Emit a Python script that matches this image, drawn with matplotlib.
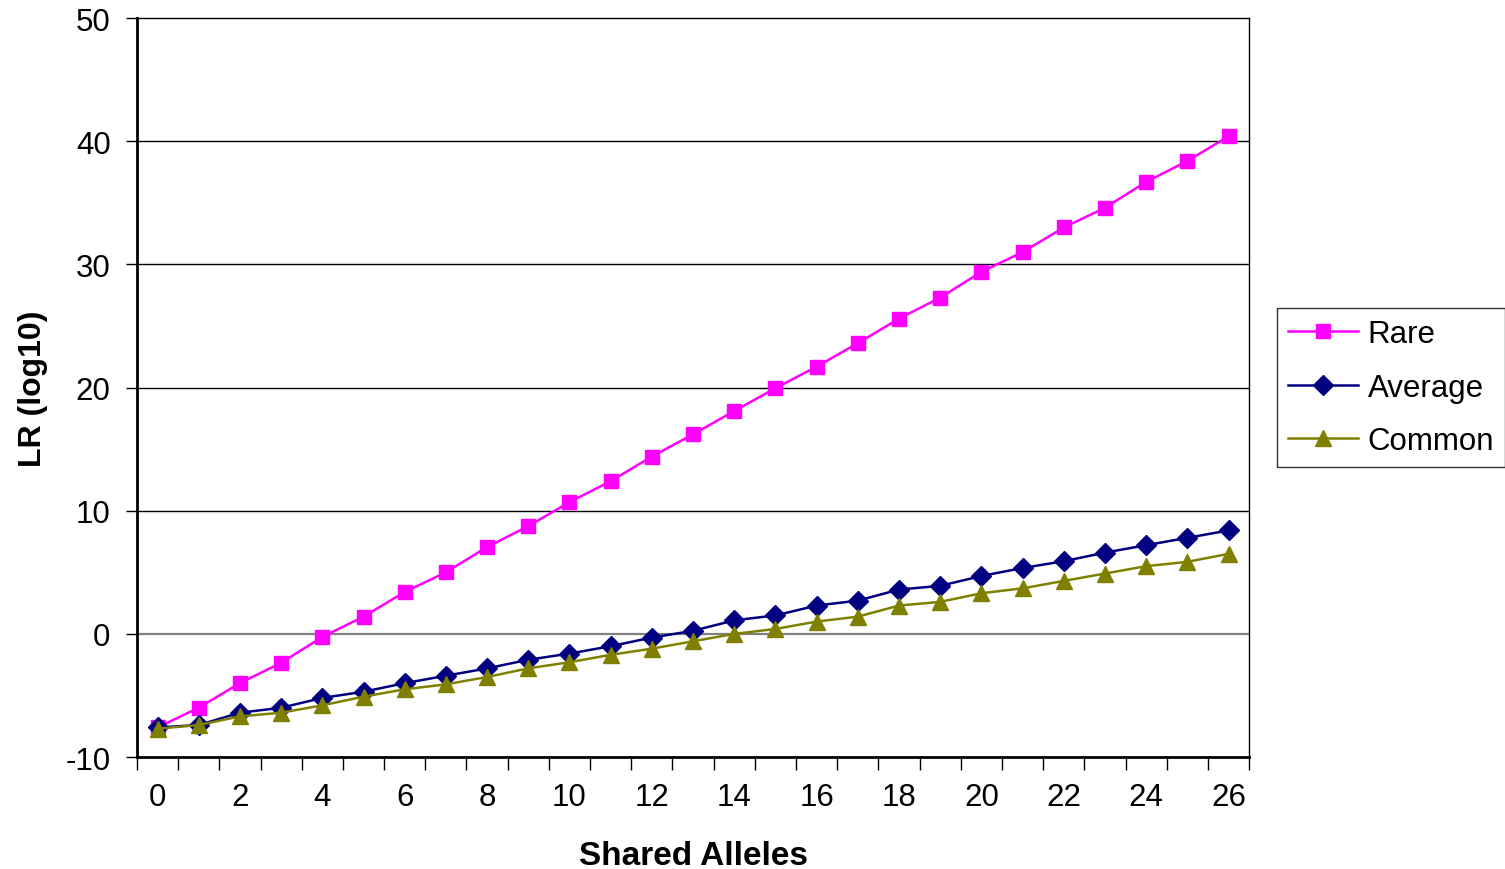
import numpy as np
import matplotlib.pyplot as plt
from matplotlib.ticker import MultipleLocator, FixedLocator

plt.rcParams['font.family'] = ['Liberation Sans', 'DejaVu Sans']
plt.rcParams['axes.unicode_minus'] = False

shared = np.arange(0, 27)

# LR (log10)
rare = [-7.6, -6.0, -4.0, -2.35, -0.25, 1.4, 3.4, 5.0, 7.05, 8.75, 10.7, 12.4, 14.4, 16.2,
        18.1, 19.95, 21.7, 23.6, 25.6, 27.3, 29.4, 31.0, 33.0, 34.6, 36.7, 38.4, 40.4]
average = [-7.6, -7.4, -6.4, -6.0, -5.2, -4.7, -4.0, -3.4, -2.8, -2.1, -1.6, -1.0, -0.3, 0.25,
           1.1, 1.5, 2.3, 2.7, 3.6, 3.9, 4.7, 5.35, 5.9, 6.6, 7.2, 7.8, 8.4]
common = [-7.7, -7.4, -6.7, -6.4, -5.8, -5.1, -4.5, -4.1, -3.5, -2.8, -2.3, -1.7, -1.2, -0.6,
          0.0, 0.4, 1.0, 1.4, 2.3, 2.6, 3.3, 3.7, 4.3, 4.9, 5.5, 5.85, 6.5]

fig = plt.figure(figsize=(15.05, 8.7), dpi=100)
ax = fig.add_axes([0.091, 0.1287, 0.739, 0.8493])

# horizontal gridlines, zero line in grey
for yv in range(-10, 51, 10):
    if yv == 0:
        ax.axhline(yv, color='#808080', lw=1.6, zorder=1)
    elif yv not in (-10, 50):
        ax.axhline(yv, color='black', lw=1, zorder=1)

ax.plot(shared, rare, color='#FF00FF', marker='s', markersize=10, lw=1.8, label='Rare', zorder=3)
ax.plot(shared, average, color='#000080', marker='D', markersize=10, lw=1.8, label='Average', zorder=3)
ax.plot(shared, common, color='#808000', marker='^', markersize=12, lw=1.8, label='Common', zorder=4)

ax.set_xlim(-0.5, 26.5)
ax.set_ylim(-10, 50)
ax.yaxis.set_major_locator(MultipleLocator(10))
ax.set_xticks(np.arange(0, 27, 2))
ax.xaxis.set_minor_locator(FixedLocator(np.arange(-0.5, 27, 1)))
ax.tick_params(axis='x', which='major', length=0, labelsize=22.5, pad=18)
ax.tick_params(axis='x', which='minor', length=9, width=1, direction='out')
ax.tick_params(axis='y', length=8, width=1, direction='out', labelsize=22.5, pad=11)

ax.spines['left'].set_linewidth(2)
ax.spines['bottom'].set_linewidth(2)
ax.spines['top'].set_linewidth(1)
ax.spines['right'].set_linewidth(1)

ax.set_xlabel('Shared Alleles', fontsize=24, fontweight='bold', va='center')
ax.xaxis.set_label_coords(0.5, -0.1326)
ax.set_ylabel('LR (log10)', fontsize=23, fontweight='bold', va='center')
ax.yaxis.set_label_coords(-0.0935, 0.5)

leg = ax.legend(loc='center left', bbox_to_anchor=(1.025, 0.5), fontsize=22.5,
                frameon=True, fancybox=False, edgecolor='black', handlelength=2.25,
                borderpad=0.35, labelspacing=0.76, handletextpad=0.3, borderaxespad=0)
leg.get_frame().set_linewidth(1)

fig.savefig('out.png', dpi=100)
